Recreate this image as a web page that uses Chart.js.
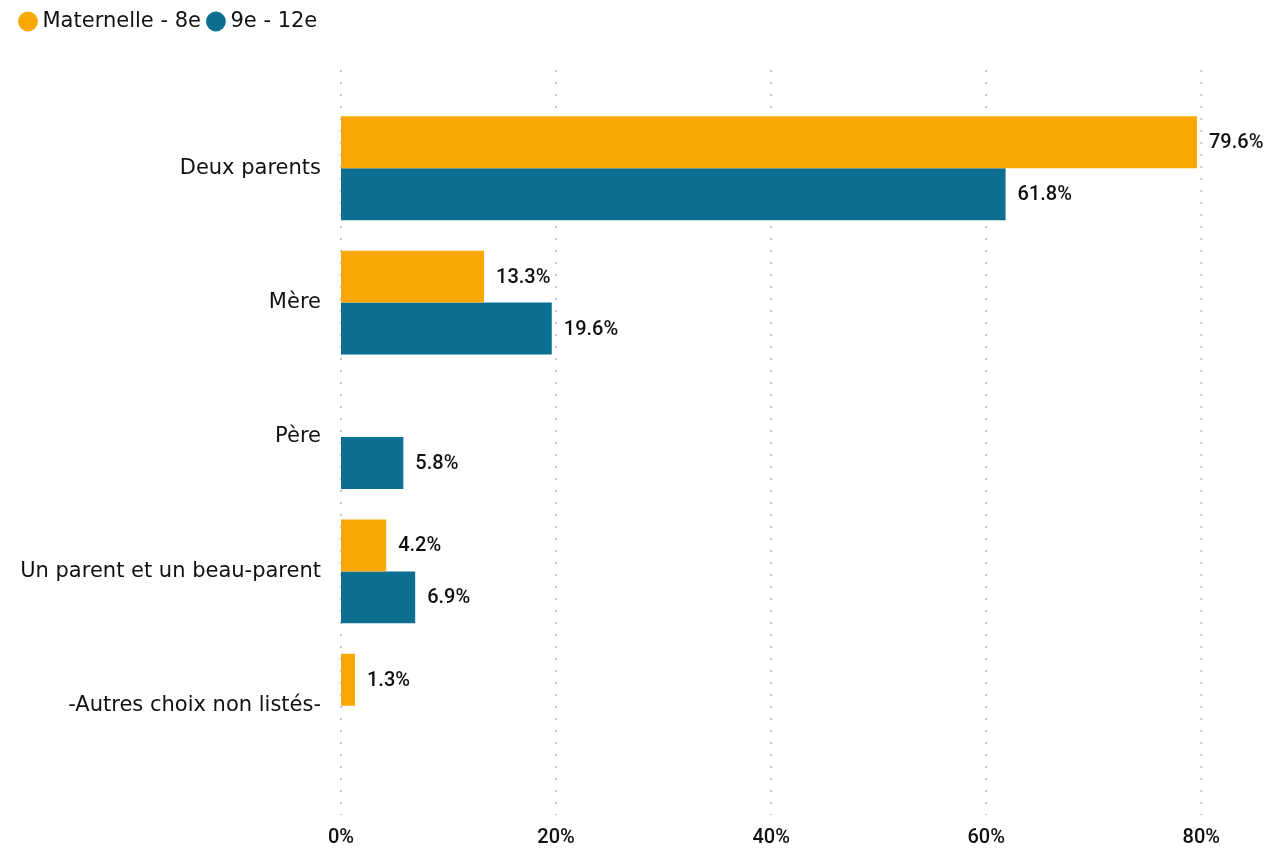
<!DOCTYPE html>
<html>
<head>
<meta charset="utf-8">
<script src="https://cdn.jsdelivr.net/npm/chart.js@4"></script>
<style>
  html, body { margin: 0; padding: 0; background: #fff; }
  #wrap { width: 1273px; height: 852px; }
</style>
</head>
<body>
<div id="wrap"><canvas id="grafico"></canvas></div>
<script>
// Données
const categories = ['Deux parents', 'Mère', 'Père', 'Un parent et un beau-parent', '-Autres choix non listés-'];
const maternelle = [79.6, 13.3, null, 4.2, 1.3];
const secondaire = [61.8, 19.6, 5.8, 6.9, null];
const ticksX = [0, 20, 40, 60, 80];

// Espace sous la légende
const margeLegende = {
  id: 'margeLegende',
  beforeInit(chart) {
    const fit = chart.legend.fit;
    chart.legend.fit = function () {
      fit.bind(chart.legend)();
      this.height += 59;
    };
  }
};

// Grille pointillée verticale
const grillePoints = {
  id: 'grillePoints',
  beforeDatasetsDraw(chart) {
    const { ctx, chartArea, scales } = chart;
    ctx.save();
    ctx.strokeStyle = '#c4c4d4';
    ctx.lineWidth = 2;
    ctx.setLineDash([2, 10]);
    scales.x.ticks.forEach(t => {
      const px = scales.x.getPixelForValue(t.value);
      ctx.beginPath();
      ctx.moveTo(px, chartArea.top - 31);
      ctx.lineTo(px, chartArea.bottom + 42);
      ctx.stroke();
    });
    ctx.restore();
  }
};

// Étiquettes de valeur
const etiquettes = {
  id: 'etiquettes',
  afterDatasetsDraw(chart) {
    const ctx = chart.ctx;
    ctx.save();
    ctx.font = '500 20px Roboto';
    ctx.fillStyle = '#111';
    ctx.textBaseline = 'middle';
    ctx.textAlign = 'left';
    chart.data.datasets.forEach((ds, i) => {
      chart.getDatasetMeta(i).data.forEach((bar, j) => {
        const v = ds.data[j];
        if (v == null) return;
        ctx.fillText(v.toFixed(1) + '%', bar.x + 12, bar.y + 1);
      });
    });
    ctx.restore();
  }
};

new Chart(document.getElementById('grafico'), {
  type: 'bar',
  data: {
    labels: categories,
    datasets: [
      { label: 'Maternelle - 8e', data: maternelle, backgroundColor: '#F9A805' },
      { label: '9e - 12e', data: secondaire, backgroundColor: '#0C6F91' }
    ]
  },
  options: {
    indexAxis: 'y',
    responsive: true,
    maintainAspectRatio: false,
    animation: false,
    barPercentage: 1,
    categoryPercentage: 0.773,
    layout: { padding: { left: 13, right: 71, top: 0, bottom: 0 } },
    plugins: {
      legend: {
        position: 'top',
        align: 'start',
        labels: {
          usePointStyle: true,
          pointStyle: 'circle',
          boxWidth: 8,
          boxHeight: 14,
          padding: 11,
          color: '#111',
          font: { family: 'DejaVu Sans', size: 21 }
        }
      },
      tooltip: { enabled: false }
    },
    scales: {
      x: {
        min: 0,
        max: 80,
        afterBuildTicks: s => { s.ticks = ticksX.map(v => ({ value: v })); },
        afterFit: s => { s.height = 79; },
        grid: { display: false, drawTicks: false },
        border: { display: false },
        ticks: {
          padding: 53,
          color: '#111',
          font: { family: 'Roboto', size: 20, weight: '500' },
          callback: v => v + '%'
        }
      },
      y: {
        afterFit: s => { s.width = 328; },
        grid: { display: false, drawTicks: false },
        border: { display: false },
        ticks: {
          padding: 20,
          color: '#111',
          font: { family: 'DejaVu Sans', size: 21 }
        }
      }
    }
  },
  plugins: [margeLegende, grillePoints, etiquettes]
});
</script>
</body>
</html>
